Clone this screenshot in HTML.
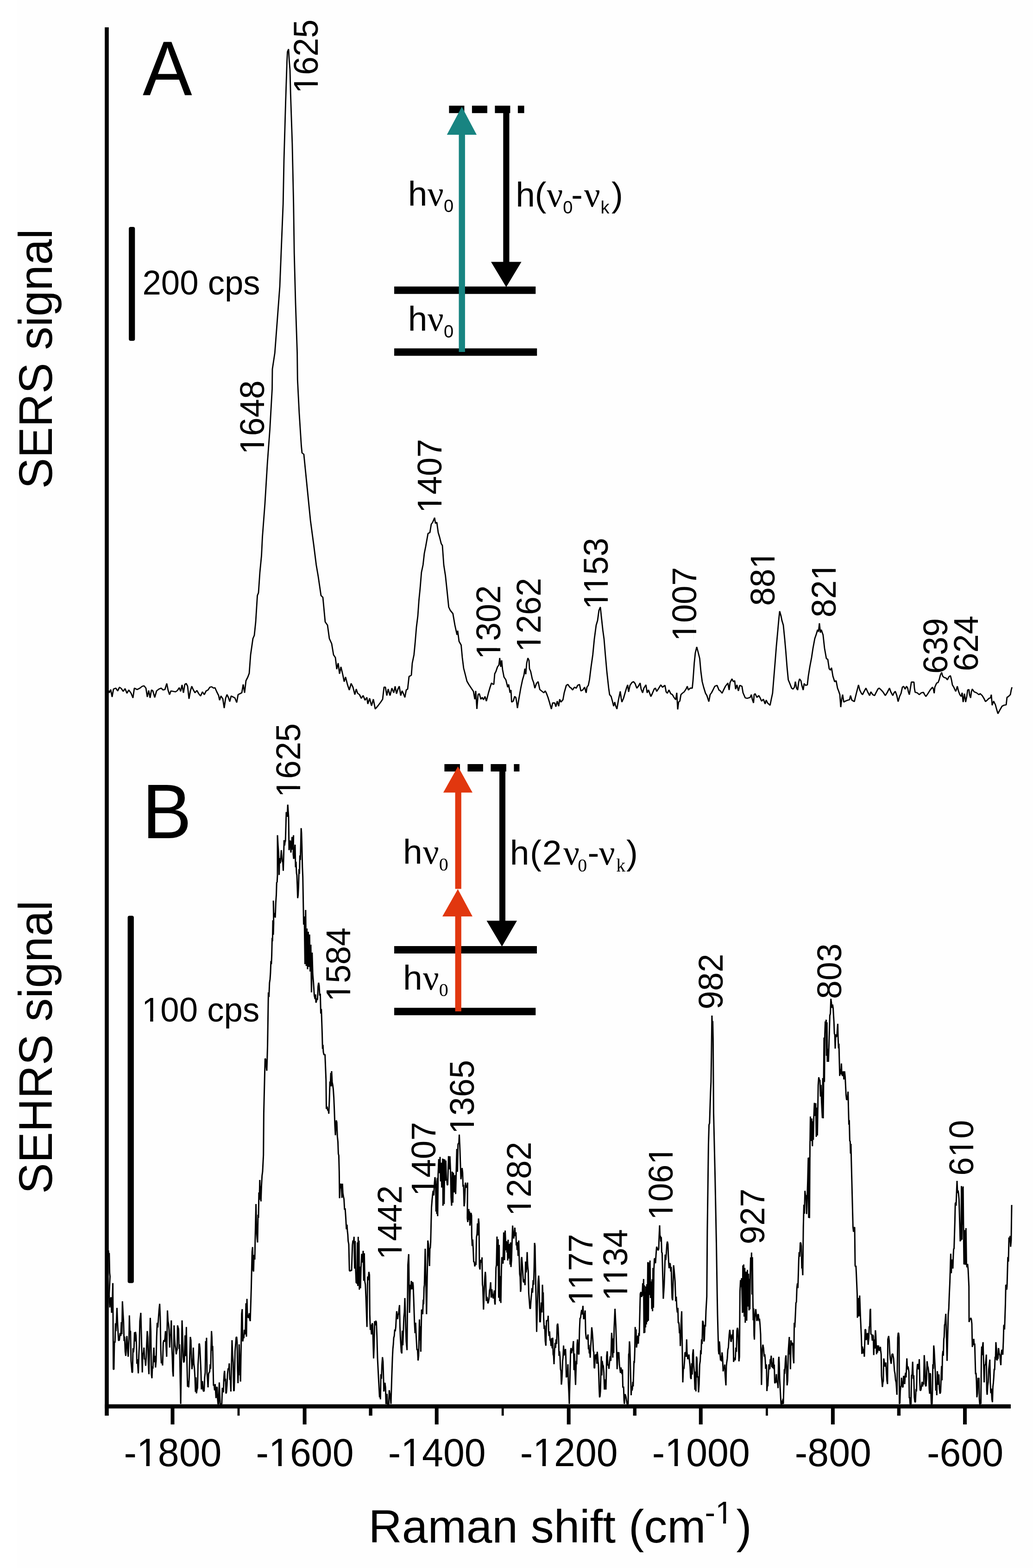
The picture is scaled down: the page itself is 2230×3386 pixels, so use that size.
<!DOCTYPE html>
<html lang="en">
<head>
<meta charset="utf-8">
<title>SERS and SEHRS spectra</title>
<style>
  html, body { margin: 0; padding: 0; background: #ffffff; }
  body { width: 2230px; height: 3386px; overflow: hidden; }
  svg { display: block; }
  text { font-family: "Liberation Sans", Arial, Helvetica, sans-serif; fill: #000; }
  .ser { font-family: "Liberation Serif", "Times New Roman", serif; }
  .spec { fill: none; stroke: #000; stroke-linejoin: bevel; stroke-linecap: butt; }
</style>
</head>
<body>
<svg width="2230" height="3386" viewBox="0 0 2230 3386">
<rect x="0" y="0" width="2230" height="3386" fill="#ffffff"/>
<rect x="37.5" y="0" width="2192.5" height="3386" fill="#fefefe"/>

<g id="axes" fill="#000">
<rect x="226.2" y="59" width="8.6" height="2998"/>
<rect x="226.2" y="3032.5" width="1955.8" height="9"/>
<rect x="368.5" y="3037" width="8" height="39"/>
<rect x="512.6" y="3037" width="4.8" height="20"/>
<rect x="653.6" y="3037" width="8" height="39"/>
<rect x="796.4" y="3037" width="7.4" height="20"/>
<rect x="938.7" y="3037" width="8" height="39"/>
<rect x="1082.8" y="3037" width="4.8" height="20"/>
<rect x="1223.7" y="3037" width="8" height="39"/>
<rect x="1366.6" y="3037" width="7.4" height="20"/>
<rect x="1508.8" y="3037" width="8" height="39"/>
<rect x="1653.0" y="3037" width="4.8" height="20"/>
<rect x="1793.9" y="3037" width="8" height="39"/>
<rect x="1936.7" y="3037" width="7.4" height="20"/>
<rect x="2079.0" y="3037" width="8" height="39"/>
</g>
<g id="ticklabels">
<g transform="translate(373.0,3166) scale(1,1.025)"><text x="-105.50" font-size="82.5">-1800</text><rect x="-73.08" y="-7.01" width="15.72" height="8.25" fill="#fefefe"/><rect x="-50.02" y="-7.01" width="15.26" height="8.25" fill="#fefefe"/></g>
<g transform="translate(658.1,3166) scale(1,1.025)"><text x="-105.50" font-size="82.5">-1600</text><rect x="-73.08" y="-7.01" width="15.72" height="8.25" fill="#fefefe"/><rect x="-50.02" y="-7.01" width="15.26" height="8.25" fill="#fefefe"/></g>
<g transform="translate(943.2,3166) scale(1,1.025)"><text x="-105.50" font-size="82.5">-1400</text><rect x="-73.08" y="-7.01" width="15.72" height="8.25" fill="#fefefe"/><rect x="-50.02" y="-7.01" width="15.26" height="8.25" fill="#fefefe"/></g>
<g transform="translate(1228.2,3166) scale(1,1.025)"><text x="-105.50" font-size="82.5">-1200</text><rect x="-73.08" y="-7.01" width="15.72" height="8.25" fill="#fefefe"/><rect x="-50.02" y="-7.01" width="15.26" height="8.25" fill="#fefefe"/></g>
<g transform="translate(1513.3,3166) scale(1,1.025)"><text x="-105.50" font-size="82.5">-1000</text><rect x="-73.08" y="-7.01" width="15.72" height="8.25" fill="#fefefe"/><rect x="-50.02" y="-7.01" width="15.26" height="8.25" fill="#fefefe"/></g>
<g transform="translate(1798.4,3166) scale(1,1.025)"><text x="-82.56" font-size="82.5">-800</text></g>
<g transform="translate(2083.5,3166) scale(1,1.025)"><text x="-82.56" font-size="82.5">-600</text></g>
</g>
<g transform="translate(0,3330.5)"><text font-size="100" x="795.6">Raman shift (cm<tspan font-size="68" x="1521.5" y="-41">-1</tspan><tspan x="1589.6" y="0">)</tspan></text><g transform="translate(1521.5,-41)"><rect x="26.72" y="-5.78" width="12.95" height="6.80" fill="#fefefe"/><rect x="45.73" y="-5.78" width="12.58" height="6.80" fill="#fefefe"/></g></g>
<text transform="translate(111.6,1055.6) rotate(-90) scale(1,1.02)" font-size="100">SERS signal</text>
<text transform="translate(111.6,2578) rotate(-90) scale(1,1.02)" font-size="100">SEHRS signal</text>
<text transform="translate(308,206) scale(1,1.04)" font-size="160" fill="#141414">A</text>
<text transform="translate(307,1810) scale(1,1.04)" font-size="160" fill="#141414">B</text>
<rect x="278.1" y="490" width="13.2" height="246" rx="4" ry="4" fill="#000"/>
<rect x="275.6" y="1977.5" width="13.3" height="793.3" rx="4" ry="4" fill="#000"/>
<text transform="translate(307.4,636) scale(1,1.025)" font-size="72.6">200 cps</text>
<g transform="translate(306,2205.5) scale(1,1.025)"><text font-size="72.6">100 cps</text><rect x="4.36" y="-6.17" width="13.83" height="7.26" fill="#fefefe"/><rect x="24.65" y="-6.17" width="13.43" height="7.26" fill="#fefefe"/></g>
<g id="peaklabelsA">
<g transform="translate(686.0,202.1) rotate(-90) scale(1,1.025)"><text font-size="72">1625</text><rect x="4.32" y="-6.12" width="13.72" height="7.20" fill="#fefefe"/><rect x="24.44" y="-6.12" width="13.32" height="7.20" fill="#fefefe"/></g>
<g transform="translate(570.0,981.6) rotate(-90) scale(1,1.025)"><text font-size="72">1648</text><rect x="4.32" y="-6.12" width="13.72" height="7.20" fill="#fefefe"/><rect x="24.44" y="-6.12" width="13.32" height="7.20" fill="#fefefe"/></g>
<g transform="translate(952.5,1108.1) rotate(-90) scale(1,1.025)"><text font-size="72">1407</text><rect x="4.32" y="-6.12" width="13.72" height="7.20" fill="#fefefe"/><rect x="24.44" y="-6.12" width="13.32" height="7.20" fill="#fefefe"/></g>
<g transform="translate(1079.5,1424.1) rotate(-90) scale(1,1.025)"><text font-size="72">1302</text><rect x="4.32" y="-6.12" width="13.72" height="7.20" fill="#fefefe"/><rect x="24.44" y="-6.12" width="13.32" height="7.20" fill="#fefefe"/></g>
<g transform="translate(1167.0,1408.1) rotate(-90) scale(1,1.025)"><text font-size="72">1262</text><rect x="4.32" y="-6.12" width="13.72" height="7.20" fill="#fefefe"/><rect x="24.44" y="-6.12" width="13.32" height="7.20" fill="#fefefe"/></g>
<g transform="translate(1312.0,1316.1) rotate(-90) scale(1,1.025)"><text font-size="72">1153</text><rect x="4.32" y="-6.12" width="13.72" height="7.20" fill="#fefefe"/><rect x="24.44" y="-6.12" width="13.32" height="7.20" fill="#fefefe"/><rect x="39.02" y="-6.12" width="13.72" height="7.20" fill="#fefefe"/><rect x="59.14" y="-6.12" width="13.32" height="7.20" fill="#fefefe"/></g>
<g transform="translate(1503.4,1384.8) rotate(-90) scale(1,1.025)"><text font-size="72">1007</text><rect x="4.32" y="-6.12" width="13.72" height="7.20" fill="#fefefe"/><rect x="24.44" y="-6.12" width="13.32" height="7.20" fill="#fefefe"/></g>
<g transform="translate(1672.0,1308.3) rotate(-90) scale(1,1.025)"><text font-size="72">881</text><rect x="84.41" y="-6.12" width="13.72" height="7.20" fill="#fefefe"/><rect x="104.53" y="-6.12" width="13.32" height="7.20" fill="#fefefe"/></g>
<g transform="translate(1803.6,1333.3) rotate(-90) scale(1,1.025)"><text font-size="72">821</text><rect x="84.41" y="-6.12" width="13.72" height="7.20" fill="#fefefe"/><rect x="104.53" y="-6.12" width="13.32" height="7.20" fill="#fefefe"/></g>
<g transform="translate(2045.3,1454.9) rotate(-90) scale(1,1.025)"><text font-size="72">639</text></g>
<g transform="translate(2111.4,1449.5) rotate(-90) scale(1,1.025)"><text font-size="72">624</text></g>
</g>
<g id="peaklabelsB">
<g transform="translate(647.5,1722.1) rotate(-90) scale(1,1.025)"><text font-size="72">1625</text><rect x="4.32" y="-6.12" width="13.72" height="7.20" fill="#fefefe"/><rect x="24.44" y="-6.12" width="13.32" height="7.20" fill="#fefefe"/></g>
<g transform="translate(756.3,2163.1) rotate(-90) scale(1,1.025)"><text font-size="72">1584</text><rect x="4.32" y="-6.12" width="13.72" height="7.20" fill="#fefefe"/><rect x="24.44" y="-6.12" width="13.32" height="7.20" fill="#fefefe"/></g>
<g transform="translate(867.0,2720.1) rotate(-90) scale(1,1.025)"><text font-size="72">1442</text><rect x="4.32" y="-6.12" width="13.72" height="7.20" fill="#fefefe"/><rect x="24.44" y="-6.12" width="13.32" height="7.20" fill="#fefefe"/></g>
<g transform="translate(940.4,2583.1) rotate(-90) scale(1,1.025)"><text font-size="72">1407</text><rect x="4.32" y="-6.12" width="13.72" height="7.20" fill="#fefefe"/><rect x="24.44" y="-6.12" width="13.32" height="7.20" fill="#fefefe"/></g>
<g transform="translate(1022.6,2449.1) rotate(-90) scale(1,1.025)"><text font-size="72">1365</text><rect x="4.32" y="-6.12" width="13.72" height="7.20" fill="#fefefe"/><rect x="24.44" y="-6.12" width="13.32" height="7.20" fill="#fefefe"/></g>
<g transform="translate(1146.0,2625.9) rotate(-90) scale(1,1.025)"><text font-size="72">1282</text><rect x="4.32" y="-6.12" width="13.72" height="7.20" fill="#fefefe"/><rect x="24.44" y="-6.12" width="13.32" height="7.20" fill="#fefefe"/></g>
<g transform="translate(1279.0,2819.6) rotate(-90) scale(1,1.025)"><text font-size="72">1177</text><rect x="4.32" y="-6.12" width="13.72" height="7.20" fill="#fefefe"/><rect x="24.44" y="-6.12" width="13.32" height="7.20" fill="#fefefe"/><rect x="39.02" y="-6.12" width="13.72" height="7.20" fill="#fefefe"/><rect x="59.14" y="-6.12" width="13.32" height="7.20" fill="#fefefe"/></g>
<g transform="translate(1353.5,2809.1) rotate(-90) scale(1,1.025)"><text font-size="72">1134</text><rect x="4.32" y="-6.12" width="13.72" height="7.20" fill="#fefefe"/><rect x="24.44" y="-6.12" width="13.32" height="7.20" fill="#fefefe"/><rect x="39.02" y="-6.12" width="13.72" height="7.20" fill="#fefefe"/><rect x="59.14" y="-6.12" width="13.32" height="7.20" fill="#fefefe"/></g>
<g transform="translate(1451.8,2634.8) rotate(-90) scale(1,1.025)"><text font-size="72">1061</text><rect x="4.32" y="-6.12" width="13.72" height="7.20" fill="#fefefe"/><rect x="24.44" y="-6.12" width="13.32" height="7.20" fill="#fefefe"/><rect x="124.45" y="-6.12" width="13.72" height="7.20" fill="#fefefe"/><rect x="144.57" y="-6.12" width="13.32" height="7.20" fill="#fefefe"/></g>
<g transform="translate(1560.0,2179.7) rotate(-90) scale(1,1.025)"><text font-size="72">982</text></g>
<g transform="translate(1650.2,2686.9) rotate(-90) scale(1,1.025)"><text font-size="72">927</text></g>
<g transform="translate(1816.4,2157.2) rotate(-90) scale(1,1.025)"><text font-size="72">803</text></g>
<g transform="translate(2100.6,2538.7) rotate(-90) scale(1,1.025)"><text font-size="72">610</text><rect x="44.36" y="-6.12" width="13.72" height="7.20" fill="#fefefe"/><rect x="64.49" y="-6.12" width="13.32" height="7.20" fill="#fefefe"/></g>
</g>
<g id="diagA">
<line x1="969.4" y1="236.3" x2="1131.6" y2="236.3" stroke="#000" stroke-width="16" stroke-dasharray="33 16.5"/>
<rect x="851" y="618.7" width="305.3" height="16" fill="#000"/>
<rect x="851" y="752.3" width="308.2" height="16" fill="#000"/>
<rect x="1086.3" y="236" width="13.2" height="332" fill="#000"/>
<polygon points="1060,565.5 1125.6,565.5 1092.8,620" fill="#000"/>
<rect x="990.5" y="288" width="13.4" height="472" fill="#188481"/>
<polygon points="964.7,291 1029,291 997,230.5" fill="#188481"/>
</g>
<g id="diagB">
<line x1="959.4" y1="1658" x2="1121.4" y2="1658" stroke="#000" stroke-width="16" stroke-dasharray="33.5 16.5"/>
<rect x="851" y="2043" width="308" height="16" fill="#000"/>
<rect x="851" y="2176.3" width="305.3" height="16" fill="#000"/>
<rect x="1078" y="1658" width="13" height="333" fill="#000"/>
<polygon points="1050.5,1988.2 1116,1988.2 1083.6,2044" fill="#000"/>
<rect x="982.6" y="1709" width="13.2" height="210.5" fill="#e1370f"/>
<polygon points="956.9,1711.5 1020,1711.5 988.6,1655" fill="#e1370f"/>
<rect x="982.6" y="1976" width="13.2" height="208" fill="#e1370f"/>
<polygon points="955,1979 1020,1979 988.4,1920" fill="#e1370f"/>
</g>
<text y="443.8" font-size="75"><tspan x="880.8" y="443.8">h</tspan><tspan class="ser" font-size="77" x="923.0" y="443.8">ν</tspan><tspan font-size="38" x="957.9" y="458.3">0</tspan></text>
<text y="714.0" font-size="75"><tspan x="880.8" y="714.0">h</tspan><tspan class="ser" font-size="77" x="923.0" y="714.0">ν</tspan><tspan font-size="38" x="957.9" y="728.5">0</tspan></text>
<text y="1865.2" font-size="75"><tspan x="870.1" y="1865.2">h</tspan><tspan class="ser" font-size="77" x="913.0" y="1865.2">ν</tspan><tspan class="ser" font-size="40" x="947.8" y="1879.7">0</tspan></text>
<text y="2136.6" font-size="75"><tspan x="870.1" y="2136.6">h</tspan><tspan class="ser" font-size="77" x="913.0" y="2136.6">ν</tspan><tspan class="ser" font-size="40" x="947.8" y="2151.1">0</tspan></text>
<text y="446.3" font-size="75"><tspan x="1113.2" y="446.3">h</tspan><tspan x="1154.6" y="446.3">(</tspan><tspan class="ser" font-size="77" x="1180.5" y="446.3">ν</tspan><tspan font-size="38" x="1215.2" y="460.8">0</tspan><tspan x="1233.0" y="446.3">-</tspan><tspan class="ser" font-size="77" x="1261.0" y="446.3">ν</tspan><tspan font-size="38" x="1296.6" y="460.8">k</tspan><tspan x="1320.0" y="446.3">)</tspan></text>
<text y="1867.3" font-size="75"><tspan x="1100.8" y="1867.3">h</tspan><tspan x="1143.9" y="1867.3">(</tspan><tspan x="1170.8" y="1867.3">2</tspan><tspan class="ser" font-size="77" x="1216.2" y="1867.3">ν</tspan><tspan class="ser" font-size="40" x="1247.3" y="1881.8">0</tspan><tspan x="1268.6" y="1867.3">-</tspan><tspan class="ser" font-size="77" x="1293.0" y="1867.3">ν</tspan><tspan class="ser" font-size="40" x="1330.2" y="1881.8">k</tspan><tspan x="1352.1" y="1867.3">)</tspan></text>
<g id="spectra">
<polyline class="spec" stroke-width="2.8" points="234.0,1491.0 236.0,1496.0 239.0,1489.0 242.0,1505.0 245.0,1488.0 250.0,1486.0 254.0,1492.0 258.0,1484.0 262.0,1487.0 266.0,1493.0 270.0,1487.0 274.0,1497.0 278.0,1490.0 283.0,1497.0 287.0,1507.0 290.0,1486.0 296.0,1489.0 302.0,1486.0 307.0,1482.0 311.0,1481.0 315.0,1486.0 318.0,1505.0 321.0,1491.0 324.0,1507.0 327.0,1490.0 330.0,1492.0 334.0,1506.0 338.0,1492.0 343.0,1488.0 348.0,1486.0 352.0,1490.0 356.0,1489.0 360.0,1476.0 363.0,1491.0 366.0,1500.0 369.0,1492.0 374.0,1493.0 379.0,1494.0 383.0,1491.0 387.0,1485.0 390.0,1493.0 393.0,1479.0 396.0,1496.0 399.0,1478.0 402.0,1476.0 405.0,1482.0 408.0,1509.0 411.0,1492.0 414.0,1482.0 417.0,1489.0 421.0,1496.0 425.0,1491.0 429.0,1498.0 433.0,1503.0 437.0,1494.0 441.0,1500.0 445.0,1492.0 449.0,1490.0 453.0,1484.0 457.0,1483.0 461.0,1486.0 464.0,1485.0 468.0,1494.0 472.0,1502.0 474.0,1512.0 477.0,1503.0 481.0,1509.0 484.0,1529.0 487.0,1508.0 490.0,1500.0 493.0,1506.0 496.0,1515.0 499.0,1503.0 503.0,1505.0 507.0,1507.0 511.0,1517.0 514.0,1500.0 518.0,1498.0 522.0,1496.0 525.0,1478.0 528.0,1496.0 531.0,1470.0 535.0,1462.0 538.0,1454.0 541.0,1414.0 546.0,1379.0 549.0,1372.0 552.0,1343.0 555.6,1286.0 558.0,1280.0 561.0,1236.0 564.5,1200.0 566.5,1159.5 571.9,1088.0 577.3,999.0 582.6,927.0 587.5,840.0 588.0,797.0 593.3,762.0 598.7,690.0 604.0,619.0 607.6,529.0 611.2,440.0 613.0,346.0 616.6,221.0 619.4,135.0 620.5,112.0 623.0,106.0 624.4,131.5 626.0,150.0 627.3,203.0 630.9,310.0 633.7,440.0 635.2,547.0 638.0,654.0 641.6,762.0 642.3,820.0 645.9,891.5 650.5,963.0 652.0,978.0 655.9,981.0 661.2,1034.0 670.2,1124.0 677.3,1177.0 682.7,1220.0 687.0,1245.0 693.0,1286.0 697.0,1290.0 702.0,1343.0 707.0,1350.0 711.0,1379.0 716.0,1390.0 720.0,1414.0 724.0,1420.0 727.0,1445.0 730.0,1432.0 733.0,1455.0 736.0,1440.0 740.0,1457.0 743.0,1472.0 746.0,1462.0 750.0,1478.0 754.0,1490.0 758.0,1476.0 762.0,1484.0 766.0,1500.0 769.0,1488.0 772.0,1497.0 776.0,1500.0 780.0,1508.0 784.0,1502.0 788.0,1512.0 792.0,1506.0 794.0,1520.0 798.0,1508.0 802.0,1524.0 806.0,1510.0 810.0,1531.0 816.0,1524.0 822.0,1516.0 826.0,1510.0 829.0,1484.0 832.0,1484.0 835.0,1502.0 838.0,1488.0 842.0,1502.0 846.0,1486.0 850.0,1496.0 853.0,1482.0 856.0,1498.0 859.0,1488.0 862.0,1482.0 865.0,1502.0 868.0,1492.0 871.0,1498.0 874.0,1506.0 877.0,1490.0 880.0,1488.0 883.0,1461.0 888.0,1458.0 890.0,1432.0 893.7,1414.0 896.0,1390.0 899.0,1354.0 902.0,1330.0 904.4,1296.0 907.0,1270.0 909.8,1236.0 913.2,1220.0 916.0,1195.0 919.0,1180.0 924.0,1152.0 928.0,1150.0 931.0,1132.0 934.0,1128.0 938.2,1118.0 940.0,1130.0 943.0,1128.0 946.0,1150.0 949.0,1160.0 952.5,1174.0 955.0,1178.0 958.0,1220.0 961.6,1243.0 965.0,1275.0 968.7,1311.0 972.0,1318.0 977.7,1325.0 982.0,1350.0 986.6,1371.0 988.0,1362.0 991.0,1385.0 995.5,1393.0 998.0,1420.0 1000.9,1443.0 1004.0,1455.0 1008.0,1471.0 1012.0,1478.0 1016.0,1484.0 1022.0,1493.0 1025.0,1510.0 1027.0,1492.0 1029.5,1531.0 1032.0,1500.0 1034.8,1498.0 1038.0,1510.0 1041.0,1506.0 1043.8,1511.0 1047.0,1504.0 1050.0,1514.0 1054.5,1496.0 1058.0,1484.0 1061.0,1475.0 1063.4,1477.0 1066.0,1478.0 1068.0,1455.0 1070.6,1450.0 1074.0,1440.0 1077.0,1436.0 1078.8,1421.0 1081.0,1440.0 1083.0,1426.0 1084.9,1446.0 1088.0,1462.0 1092.0,1468.0 1096.0,1484.0 1098.0,1478.0 1101.0,1496.0 1103.0,1490.0 1104.5,1516.0 1108.0,1514.0 1111.0,1504.0 1113.5,1506.0 1115.0,1514.0 1117.0,1529.0 1120.0,1510.0 1124.2,1486.0 1128.0,1468.0 1131.0,1458.0 1133.1,1444.0 1135.0,1456.0 1137.0,1432.0 1139.6,1421.0 1142.0,1426.0 1143.0,1444.0 1145.6,1450.0 1149.0,1466.0 1152.0,1474.0 1154.6,1486.0 1158.0,1476.0 1161.7,1472.0 1165.3,1489.0 1169.0,1492.0 1174.0,1496.0 1177.0,1492.0 1179.6,1497.0 1183.0,1506.0 1186.0,1516.0 1190.3,1531.0 1193.0,1518.0 1197.5,1518.0 1200.0,1526.0 1203.0,1514.0 1206.0,1525.0 1208.2,1510.0 1211.0,1516.0 1215.3,1511.0 1218.0,1496.0 1222.5,1480.0 1226.0,1478.0 1230.0,1484.0 1233.2,1486.0 1236.0,1490.0 1240.0,1484.0 1244.0,1486.0 1247.0,1480.0 1251.0,1478.0 1254.0,1492.0 1258.0,1490.0 1262.0,1484.0 1265.4,1496.0 1267.0,1484.0 1270.0,1480.0 1272.5,1468.0 1276.0,1440.0 1279.7,1414.0 1283.0,1380.0 1287.0,1350.0 1290.0,1340.0 1293.0,1318.0 1296.0,1311.0 1298.0,1330.0 1301.4,1361.0 1304.0,1380.0 1306.8,1414.0 1310.0,1450.0 1314.0,1486.0 1316.0,1500.0 1319.3,1504.0 1322.0,1514.0 1324.7,1525.0 1327.0,1516.0 1329.0,1524.0 1331.8,1531.0 1335.0,1512.0 1339.0,1493.0 1341.0,1508.0 1342.5,1516.0 1346.0,1508.0 1350.0,1494.0 1353.0,1484.0 1355.0,1479.0 1357.0,1494.0 1360.0,1480.0 1364.0,1474.0 1367.6,1472.0 1371.0,1476.0 1374.7,1486.0 1378.0,1482.0 1381.9,1475.0 1384.0,1488.0 1387.2,1496.0 1390.0,1486.0 1394.4,1479.0 1397.0,1496.0 1400.0,1490.0 1405.0,1504.0 1408.0,1498.0 1412.2,1488.0 1415.0,1486.0 1417.6,1493.0 1421.0,1488.0 1426.5,1479.0 1430.0,1484.0 1435.5,1480.0 1438.0,1494.0 1440.8,1497.0 1444.0,1490.0 1448.0,1498.0 1451.5,1500.0 1455.0,1506.0 1458.7,1511.0 1461.0,1496.0 1463.0,1532.0 1465.0,1516.0 1467.6,1514.0 1470.0,1500.0 1473.0,1497.0 1477.0,1494.0 1481.0,1488.0 1483.7,1482.0 1486.0,1490.0 1490.0,1486.0 1494.4,1486.0 1496.0,1470.0 1498.7,1432.0 1501.0,1410.0 1504.1,1397.0 1507.0,1408.0 1510.5,1422.0 1513.0,1450.0 1515.9,1472.0 1519.0,1484.0 1523.0,1497.0 1526.0,1502.0 1530.2,1515.0 1533.0,1500.0 1536.0,1496.0 1539.1,1490.0 1543.0,1482.0 1548.0,1480.0 1552.0,1490.0 1555.0,1492.0 1558.8,1497.0 1562.0,1490.0 1566.0,1482.0 1571.3,1475.0 1574.0,1490.0 1576.0,1474.0 1580.2,1466.0 1583.0,1472.0 1586.0,1470.0 1588.0,1488.0 1590.9,1479.0 1594.0,1492.0 1597.0,1480.0 1601.7,1482.0 1604.0,1496.0 1608.8,1507.0 1613.0,1508.0 1619.5,1506.0 1622.0,1500.0 1624.0,1510.0 1626.7,1518.0 1628.0,1500.0 1630.2,1498.0 1634.0,1506.0 1638.0,1502.0 1641.0,1507.0 1644.0,1514.0 1648.0,1510.0 1651.7,1520.0 1654.0,1512.0 1657.0,1518.0 1662.4,1523.0 1665.0,1510.0 1667.8,1497.0 1670.0,1470.0 1673.1,1432.0 1676.0,1395.0 1678.5,1368.0 1681.0,1340.0 1683.1,1320.0 1686.0,1330.0 1688.0,1340.0 1691.0,1350.0 1694.0,1380.0 1696.4,1407.0 1699.0,1440.0 1701.7,1468.0 1705.0,1476.0 1708.9,1486.0 1712.0,1488.0 1715.0,1484.0 1717.0,1472.0 1719.6,1486.0 1722.0,1490.0 1724.0,1474.0 1726.0,1466.0 1729.0,1470.0 1731.0,1480.0 1733.9,1490.0 1736.0,1476.0 1739.0,1480.0 1742.8,1479.0 1745.0,1460.0 1748.2,1440.0 1752.0,1420.0 1755.0,1400.0 1758.9,1379.0 1762.0,1370.0 1765.0,1360.0 1767.0,1364.0 1768.9,1346.0 1771.0,1366.0 1773.0,1360.0 1776.8,1371.0 1780.0,1400.0 1783.9,1422.0 1787.0,1424.0 1790.0,1444.0 1792.9,1447.0 1795.0,1442.0 1798.0,1460.0 1801.8,1472.0 1805.0,1470.0 1808.0,1486.0 1810.7,1493.0 1813.0,1500.0 1815.0,1527.0 1817.0,1510.0 1819.0,1500.0 1821.5,1516.0 1825.0,1514.0 1830.0,1512.0 1834.0,1511.0 1836.0,1502.0 1839.0,1512.0 1844.4,1515.0 1846.0,1508.0 1848.7,1497.0 1851.0,1488.0 1853.3,1479.0 1856.0,1490.0 1859.4,1497.0 1862.0,1500.0 1865.0,1494.0 1869.4,1486.0 1873.0,1494.0 1877.3,1502.0 1880.0,1494.0 1884.0,1500.0 1888.0,1502.0 1891.0,1496.0 1895.2,1488.0 1898.0,1486.0 1902.3,1490.0 1906.0,1494.0 1911.2,1502.0 1915.0,1496.0 1920.2,1486.0 1923.0,1494.0 1927.3,1502.0 1930.0,1496.0 1932.7,1493.0 1936.0,1502.0 1938.8,1515.0 1942.0,1504.0 1945.2,1497.0 1948.0,1484.0 1950.6,1482.0 1954.0,1488.0 1957.0,1482.0 1959.5,1486.0 1961.0,1494.0 1963.1,1500.0 1965.0,1488.0 1967.4,1473.0 1973.0,1473.0 1974.0,1486.0 1975.6,1495.0 1980.0,1496.0 1984.5,1500.0 1989.0,1496.0 1993.4,1495.0 1996.0,1500.0 1998.8,1504.0 2003.0,1498.0 2008.0,1490.0 2013.1,1484.0 2015.0,1488.0 2016.7,1497.0 2018.0,1484.0 2022.0,1475.0 2025.0,1474.0 2027.4,1468.0 2030.0,1458.0 2032.8,1452.0 2035.0,1460.0 2038.1,1463.0 2042.0,1464.0 2045.3,1468.0 2048.0,1462.0 2051.7,1459.0 2054.0,1468.0 2056.0,1479.0 2059.0,1484.0 2063.1,1493.0 2065.0,1488.0 2066.7,1482.0 2069.0,1492.0 2072.0,1500.0 2075.0,1504.0 2077.0,1496.0 2079.2,1516.0 2082.0,1498.0 2084.6,1516.0 2087.0,1504.0 2089.0,1490.0 2091.7,1489.0 2093.0,1500.0 2095.3,1507.0 2097.0,1494.0 2098.9,1488.0 2103.0,1494.0 2108.0,1496.0 2113.2,1500.0 2116.0,1498.0 2120.3,1502.0 2124.0,1508.0 2127.5,1515.0 2131.0,1512.0 2135.0,1508.0 2138.2,1507.0 2140.0,1500.0 2141.8,1523.0 2145.0,1514.0 2148.9,1522.0 2151.0,1530.0 2154.3,1541.0 2158.0,1534.0 2163.2,1525.0 2167.0,1523.0 2172.1,1522.0 2173.9,1506.0 2177.0,1504.0 2181.1,1500.0 2183.0,1490.0 2184.6,1484.0"/>
<polyline class="spec" stroke-width="3.0" points="234.0,2700.0 235.0,2713.6 235.8,2705.9 236.7,2749.0 237.5,2756.5 235.7,2795.8 237.0,2823.5 238.3,2806.2 239.7,2801.3 241.0,2835.0 241.9,2812.4 242.7,2800.8 243.6,2770.8 244.7,2956.6 245.9,2957.3 247.0,2896.6 248.2,2899.5 249.3,2857.5 250.3,2874.7 251.4,2851.7 252.5,2824.4 254.3,2867.3 255.9,2895.0 257.6,2893.8 259.2,2878.7 260.8,2885.0 262.0,2855.1 263.1,2881.3 264.3,2810.0 265.5,2833.5 266.7,2853.2 267.9,2896.0 269.1,2886.2 270.3,2919.1 271.5,2928.0 272.3,2916.3 273.2,2893.1 274.0,2885.0 274.9,2898.8 275.9,2919.8 276.8,2929.8 277.6,2912.5 278.5,2890.0 279.3,2840.5 280.5,2877.0 281.7,2873.8 282.9,2938.8 285.0,2963.8 286.1,2963.0 287.1,2911.3 288.2,2920.4 289.3,2910.0 290.4,2876.8 291.5,2896.7 292.5,2876.0 293.6,2883.4 294.6,2904.4 295.5,2945.0 296.5,2935.0 298.6,2965.6 299.7,2927.2 300.8,2905.7 301.9,2853.0 304.0,2835.0 307.2,2963.8 308.4,2922.0 309.6,2922.7 310.8,2910.0 312.0,2935.1 313.2,2934.7 314.4,2949.5 315.6,2931.1 316.7,2901.3 317.9,2874.4 319.1,2887.3 320.3,2946.5 321.5,2967.4 324.4,2845.8 325.6,2874.7 326.8,2966.5 328.0,2976.3 329.1,2950.6 330.1,2955.5 331.1,2926.6 332.2,2910.0 333.4,2941.5 334.6,2927.8 335.8,2953.0 337.0,2938.8 338.2,2886.5 339.4,2856.6 340.7,2866.6 342.0,2847.3 343.4,2828.3 344.7,2815.5 345.9,2844.3 347.1,2915.0 348.3,2944.0 349.6,2939.9 351.0,2948.6 352.4,2899.7 353.7,2894.0 354.9,2897.5 356.1,2890.1 357.3,2874.4 358.1,2898.0 359.0,2915.1 359.8,2929.8 361.5,2829.8 362.7,2853.1 363.9,2859.1 365.0,2871.7 366.2,2910.0 367.4,2883.3 368.6,2881.4 369.8,2851.2 370.9,2908.8 371.9,2929.5 372.9,2961.3 374.0,2972.7 375.8,2862.0 377.0,2891.6 378.1,2905.8 379.3,2912.2 380.5,2924.5 381.4,2917.6 382.4,2914.8 383.3,2862.0 384.4,2866.4 385.5,2870.0 386.5,2913.0 387.6,2903.0 390.1,3031.7 393.0,2851.2 394.2,2886.0 395.4,2929.4 396.6,2942.3 398.0,2938.8 399.5,2883.5 400.9,2928.5 402.3,2865.5 403.7,2946.0 404.9,2994.6 406.1,2982.5 407.3,2996.0 408.5,2973.2 409.7,2925.6 410.9,2887.0 412.1,2894.3 413.2,2931.4 414.4,2956.6 415.4,2947.8 416.3,2945.6 417.3,2910.0 418.5,2944.3 419.7,2954.1 420.9,2974.5 422.0,3005.6 423.0,2974.2 424.1,3008.9 425.2,3001.3 426.4,2996.9 427.5,2947.2 428.7,2928.0 429.7,2902.0 430.6,2902.0 431.6,2912.0 432.7,2936.4 433.8,2961.7 434.8,3000.2 435.9,2992.4 437.1,2982.4 438.3,3000.8 439.5,3004.9 440.7,3002.9 441.8,2974.7 443.0,2963.8 444.0,2896.1 444.9,2928.2 445.9,2888.7 447.0,2966.1 448.0,2978.3 449.1,2996.0 450.3,2967.0 451.5,2963.6 452.6,2962.5 453.8,2946.0 454.7,2956.0 455.7,2909.4 456.6,2874.4 457.4,2887.2 458.3,2916.6 459.1,2906.6 460.9,2992.4 462.1,2989.7 463.3,3002.4 464.5,2988.8 466.3,3019.2 467.1,2999.1 468.0,2995.2 468.8,2996.0 469.7,3020.9 470.7,3032.0 471.6,3031.7 473.4,2985.2 475.2,3031.7 476.4,3032.0 477.6,3032.0 478.8,3031.7 480.0,2996.7 481.1,3002.2 482.3,3006.7 483.1,2980.2 484.0,2966.1 484.8,2960.2 485.8,2982.4 486.8,2977.4 487.8,3009.3 488.8,3006.7 490.0,2991.5 491.1,2967.3 492.3,2956.6 493.2,2954.5 494.0,2955.9 494.9,2944.0 496.1,2979.7 497.2,2976.0 498.4,3004.9 500.9,2894.0 502.1,2926.1 503.3,2942.1 504.5,3003.0 505.5,3003.3 506.4,2972.0 507.4,2917.3 508.6,2904.0 509.7,2888.5 510.9,2887.0 511.9,2898.1 512.8,2956.7 513.8,2987.0 514.6,2962.7 515.5,2970.3 516.3,2903.0 517.3,2934.2 518.2,2942.6 519.2,2983.4 521.7,2837.0 522.9,2827.0 524.0,2896.8 525.2,2888.7 526.4,2889.7 527.6,2871.6 528.8,2881.6 529.9,2865.6 531.0,2814.2 532.0,2886.6 533.1,2804.7 534.1,2838.5 535.0,2842.4 536.0,2845.8 537.0,2844.4 538.1,2835.8 539.2,2848.9 540.2,2853.0 542.4,2781.5 544.2,2703.0 545.3,2693.0 546.3,2742.3 547.4,2745.8 548.3,2710.0 549.1,2712.3 550.0,2720.0 550.8,2680.0 552.6,2600.0 553.8,2658.5 555.0,2673.0 556.0,2683.0 557.0,2623.1 558.0,2630.0 558.9,2575.1 559.9,2591.2 560.8,2548.0 561.6,2578.9 562.5,2561.2 563.3,2594.5 564.5,2560.5 565.7,2539.0 566.9,2530.0 568.7,2494.4 569.4,2405.0 571.5,2315.7 572.3,2286.0 573.2,2286.8 574.0,2290.7 575.1,2306.0 575.9,2312.3 576.8,2285.9 577.6,2257.3 579.4,2143.0 580.6,2153.0 581.8,2122.4 583.0,2114.4 583.9,2101.2 584.9,2075.2 585.8,2082.2 586.6,2063.4 587.5,2025.4 588.3,2032.4 589.1,1987.3 590.0,2018.7 590.8,1993.0 590.1,1944.8 591.1,1979.7 592.0,1977.7 593.0,1971.6 594.2,1981.6 595.3,1949.9 596.5,1932.3 597.3,1905.1 598.2,1905.3 599.0,1889.4 599.0,1803.6 600.2,1825.5 601.4,1840.8 602.6,1889.4 603.4,1854.4 604.3,1854.4 605.1,1864.4 607.3,1835.8 608.3,1846.9 609.4,1860.9 610.5,1860.8 611.5,1880.5 613.3,1814.4 614.3,1826.0 615.2,1818.7 616.2,1816.0 618.0,1753.6 619.1,1758.7 620.1,1763.6 621.2,1737.5 623.0,1764.3 624.0,1835.8 625.4,1818.3 626.7,1815.0 628.0,1841.2 629.4,1825.0 630.5,1807.3 631.5,1835.0 632.6,1815.0 633.7,1803.6 633.0,1844.7 634.0,1854.7 634.9,1851.3 635.9,1834.0 637.0,1824.0 638.0,1872.8 639.0,1860.7 640.1,1885.8 640.9,1890.1 641.8,1913.8 642.6,1939.5 643.6,1932.5 644.5,1913.7 645.5,1876.9 646.5,1886.9 647.4,1847.3 648.4,1857.3 649.2,1827.0 650.1,1788.3 650.9,1798.3 651.8,1828.0 652.8,1872.2 653.7,1893.0 655.5,1996.6 657.0,1979.0 658.4,2082.0 659.8,1965.0 661.2,2086.0 662.6,2005.0 664.0,2093.0 665.4,2012.0 666.8,2088.0 668.2,2018.0 669.6,2098.0 671.0,2040.0 672.4,2143.0 673.8,2057.0 675.2,2104.0 676.6,2120.0 678.5,2150.0 680.2,2157.3 681.1,2147.3 682.1,2165.2 683.0,2162.6 684.2,2156.0 685.4,2159.3 686.6,2130.4 687.8,2122.1 689.0,2128.5 690.2,2150.0 691.4,2145.8 692.5,2188.7 693.7,2178.7 695.5,2232.3 696.3,2265.0 697.2,2256.3 698.0,2271.6 699.2,2277.5 700.4,2277.3 701.6,2277.0 703.8,2332.4 704.5,2394.4 706.3,2389.6 707.5,2398.4 708.6,2396.1 709.8,2405.0 711.0,2376.0 712.2,2336.4 713.4,2336.0 714.2,2316.8 715.1,2346.0 715.9,2313.0 717.1,2336.7 718.2,2342.3 719.4,2351.4 720.6,2369.3 721.8,2397.8 722.9,2430.5 724.1,2451.5 725.9,2419.4 727.1,2423.2 728.3,2453.9 729.5,2465.8 730.4,2491.5 731.4,2495.1 732.3,2530.0 733.0,2587.4 734.0,2566.1 735.0,2556.0 736.0,2566.0 737.0,2556.0 738.1,2586.6 739.2,2556.0 740.2,2576.6 741.4,2583.7 742.6,2589.5 743.8,2612.4 745.1,2609.3 746.5,2630.2 747.8,2654.5 749.1,2644.5 749.9,2657.7 750.8,2665.6 751.6,2680.0 752.9,2686.8 754.3,2744.0 755.9,2744.6 757.4,2743.1 759.0,2744.0 760.8,2688.6 762.0,2678.6 763.1,2684.2 764.3,2670.7 765.5,2739.5 766.7,2679.8 767.9,2745.8 768.9,2770.7 769.8,2755.6 770.8,2772.6 771.6,2682.8 772.5,2776.9 773.3,2670.7 774.1,2772.3 775.0,2679.1 775.8,2785.0 777.0,2735.2 778.1,2781.9 779.3,2738.6 780.9,2707.5 782.4,2726.4 784.0,2701.0 785.2,2765.7 786.4,2706.4 787.6,2767.2 788.8,2774.1 790.0,2803.0 792.2,2865.5 793.6,2756.5 794.9,2764.6 796.3,2746.6 797.6,2753.0 798.3,2838.7 799.5,2871.9 800.7,2860.4 801.9,2881.6 802.7,2867.3 803.6,2857.3 804.4,2860.0 806.5,2933.4 807.7,2903.8 808.8,2853.1 810.0,2862.0 811.2,2852.0 812.5,2855.1 813.7,2885.0 815.0,2933.4 817.2,2976.3 819.4,3017.4 820.3,3009.6 821.3,3021.7 822.2,2967.4 823.4,2977.4 824.5,2947.9 825.7,2930.6 826.9,2940.6 828.7,3004.9 829.9,2994.6 831.0,2986.0 832.2,2996.0 833.3,3032.0 834.4,3024.1 835.4,3009.7 836.5,3031.7 837.5,3032.0 838.4,3032.0 839.4,3031.7 840.3,3002.0 841.3,3009.0 842.2,3012.0 844.0,3031.7 845.8,2971.0 847.2,2931.6 848.1,2913.0 849.1,2903.3 850.0,2888.7 851.1,2885.3 852.2,2871.0 853.3,2874.7 854.4,2865.5 855.4,2846.0 856.3,2831.5 857.3,2838.7 858.3,2848.7 859.4,2838.9 860.5,2837.2 861.5,2826.2 862.5,2818.3 863.4,2864.9 864.4,2888.7 866.2,2919.0 867.4,2922.6 868.5,2873.5 869.6,2905.3 870.8,2874.4 871.9,2843.6 872.9,2834.0 874.0,2803.0 875.0,2831.6 875.9,2868.9 876.9,2896.0 878.7,2915.5 880.5,2731.5 882.3,2708.2 884.0,2835.0 885.8,2774.4 886.9,2784.4 888.0,2766.2 889.0,2784.4 890.1,2772.6 891.1,2768.7 892.0,2776.1 893.0,2803.0 894.8,2856.6 896.0,2878.9 897.2,2856.3 898.4,2885.0 900.1,2915.5 901.3,2913.0 902.5,2938.0 903.7,2928.0 905.5,2849.4 906.5,2894.4 907.4,2863.9 908.4,2919.0 910.1,2828.0 911.3,2829.9 912.5,2838.0 913.7,2806.5 914.5,2816.5 915.4,2780.8 916.2,2774.4 917.9,2696.6 920.8,2838.0 923.6,2678.8 924.8,2686.4 926.0,2710.3 927.2,2734.0 928.0,2696.0 928.9,2694.8 929.7,2682.3 931.5,2607.3 932.7,2592.0 933.8,2580.8 935.0,2571.5 936.4,2581.5 937.7,2557.6 939.0,2542.0 940.4,2552.0 941.2,2616.3 942.1,2555.8 942.9,2621.6 943.9,2543.6 944.8,2626.3 945.8,2535.8 947.2,2503.1 948.6,2533.5 950.0,2498.3 951.2,2551.3 952.4,2510.8 953.6,2564.4 955.8,2501.9 956.3,2603.7 957.5,2503.0 958.8,2600.2 960.0,2503.6 961.2,2550.0 962.4,2506.3 963.6,2546.5 964.6,2548.7 965.5,2558.5 966.5,2559.0 968.3,2496.5 969.7,2525.2 971.2,2496.8 972.6,2528.7 973.8,2585.1 975.0,2603.7 976.2,2530.0 977.5,2597.3 978.7,2532.2 980.8,2575.0 982.2,2537.5 983.6,2578.4 985.0,2525.0 986.2,2481.1 987.5,2530.5 988.7,2471.5 989.6,2468.8 990.6,2469.3 991.5,2450.0 993.0,2485.8 995.0,2546.5 996.2,2535.6 997.5,2522.3 998.7,2532.2 999.6,2562.6 1000.7,2558.5 1001.9,2605.0 1003.0,2596.6 1004.7,2553.7 1005.9,2563.7 1007.0,2563.7 1008.2,2563.7 1009.4,2553.7 1008.8,2630.5 1009.8,2639.0 1010.9,2617.4 1011.9,2610.9 1012.7,2634.7 1013.6,2615.8 1014.4,2646.6 1015.6,2635.7 1016.8,2619.0 1018.0,2625.0 1018.3,2668.0 1019.4,2690.6 1020.4,2676.6 1021.5,2696.6 1022.6,2725.2 1023.8,2724.5 1025.0,2734.8 1026.2,2728.8 1027.4,2731.8 1028.6,2671.7 1029.8,2664.5 1030.8,2641.8 1031.9,2667.6 1033.0,2631.2 1034.0,2641.2 1035.0,2736.0 1036.2,2741.4 1037.4,2720.3 1038.6,2726.0 1039.8,2725.2 1040.6,2715.2 1041.5,2773.8 1042.3,2778.8 1043.8,2828.0 1046.0,2770.8 1046.8,2757.0 1047.7,2746.5 1048.5,2756.5 1049.7,2809.4 1050.8,2800.3 1052.0,2803.0 1053.2,2814.7 1054.4,2811.5 1055.6,2804.7 1056.8,2786.5 1058.0,2782.8 1059.2,2769.0 1060.4,2802.2 1061.6,2784.0 1062.8,2792.2 1064.0,2801.5 1065.1,2803.9 1066.3,2795.8 1067.1,2786.6 1068.0,2812.5 1068.8,2817.3 1069.8,2779.7 1070.7,2737.7 1071.7,2731.5 1072.9,2670.4 1074.1,2733.5 1075.3,2676.0 1076.5,2802.4 1077.6,2688.2 1078.8,2810.0 1080.0,2755.6 1081.2,2813.7 1082.4,2742.2 1083.4,2714.5 1084.2,2724.7 1085.1,2723.7 1085.9,2728.8 1087.4,2661.4 1089.0,2721.1 1090.5,2657.3 1092.3,2700.0 1093.3,2680.1 1094.2,2704.6 1095.2,2682.3 1096.0,2721.9 1096.9,2677.0 1097.7,2718.0 1098.5,2691.0 1099.4,2713.7 1100.2,2686.0 1101.1,2730.6 1102.1,2682.9 1103.0,2736.0 1104.2,2721.9 1105.4,2681.3 1106.6,2646.6 1107.8,2663.7 1109.0,2674.5 1110.2,2664.5 1111.4,2651.0 1112.6,2669.4 1113.8,2661.0 1114.5,2689.5 1115.4,2683.5 1116.4,2699.5 1117.3,2682.3 1118.5,2712.2 1119.8,2678.8 1121.0,2721.7 1121.9,2751.6 1122.9,2757.6 1123.8,2789.6 1124.6,2782.5 1125.5,2720.5 1126.3,2714.5 1127.5,2730.5 1128.6,2747.8 1129.8,2768.0 1131.0,2768.7 1132.2,2762.4 1133.4,2775.3 1134.6,2724.3 1135.7,2747.8 1136.8,2739.7 1138.0,2703.8 1139.1,2732.0 1140.3,2744.4 1141.4,2792.2 1142.6,2807.2 1143.8,2825.0 1145.0,2826.2 1146.2,2808.1 1147.3,2796.1 1148.5,2781.5 1149.7,2791.5 1150.9,2764.4 1152.1,2774.4 1153.1,2736.4 1154.0,2684.1 1155.0,2690.4 1158.5,2876.2 1159.6,2833.2 1160.7,2802.1 1161.7,2767.8 1162.8,2754.7 1164.0,2775.6 1165.2,2853.8 1166.4,2854.8 1167.6,2831.2 1168.7,2812.5 1169.8,2834.1 1171.0,2774.4 1171.9,2797.1 1172.7,2790.8 1173.6,2845.8 1174.8,2869.8 1175.9,2862.4 1177.1,2896.0 1178.4,2906.0 1179.8,2851.2 1181.2,2852.0 1182.5,2851.2 1183.4,2841.2 1184.4,2875.5 1185.3,2885.0 1186.4,2875.0 1187.4,2894.6 1188.5,2894.4 1189.6,2906.6 1190.8,2889.6 1192.0,2911.6 1193.2,2888.7 1194.1,2924.6 1195.1,2928.0 1196.0,2946.0 1197.1,2916.4 1198.2,2899.9 1199.3,2910.6 1200.4,2892.3 1201.6,2902.3 1202.8,2861.5 1204.0,2858.4 1204.9,2867.5 1205.9,2892.2 1206.8,2928.0 1207.9,2918.0 1208.9,2929.6 1210.0,2956.6 1211.0,2960.7 1211.9,2990.0 1212.9,2980.0 1213.7,2963.8 1214.6,2938.5 1215.4,2931.6 1216.6,2905.5 1217.7,2927.4 1218.8,2919.0 1220.0,2915.5 1220.8,2913.1 1221.7,2935.3 1222.5,2974.5 1223.7,2964.2 1224.8,2973.7 1226.0,2946.0 1227.0,2985.8 1228.0,3006.8 1229.0,3031.7 1231.8,2917.3 1232.8,2911.0 1233.9,2922.2 1235.0,2915.7 1236.0,2915.5 1237.9,2896.0 1239.1,2958.8 1240.2,2922.9 1241.3,2960.3 1242.5,2990.6 1244.0,2938.8 1244.9,2946.1 1245.9,2903.0 1246.8,2892.3 1248.6,2924.5 1249.8,2923.9 1251.0,2871.2 1252.2,2845.8 1253.3,2846.6 1254.5,2835.6 1255.7,2828.7 1256.8,2838.7 1258.4,2819.8 1260.0,2848.7 1261.6,2843.6 1263.2,2829.8 1264.3,2878.0 1265.5,2889.8 1266.8,2891.6 1268.0,2890.9 1269.3,2881.6 1270.3,2913.7 1271.2,2904.2 1272.2,2922.7 1273.1,2914.4 1274.1,2931.9 1275.0,2910.0 1276.2,2892.4 1277.4,2866.2 1278.6,2876.2 1279.8,2892.7 1281.0,2917.3 1281.9,2920.0 1282.7,2953.3 1283.6,2954.8 1284.6,2935.2 1285.5,2925.0 1286.5,2935.0 1287.4,2923.7 1288.4,2945.0 1289.3,2919.0 1290.1,2927.1 1291.0,2939.9 1291.8,2946.0 1292.6,2970.0 1293.5,2998.9 1294.3,3017.4 1295.3,3015.0 1296.2,3004.4 1297.2,2960.2 1298.1,2928.8 1299.1,2970.2 1300.0,2938.8 1301.2,2947.1 1302.4,2949.7 1303.6,2963.8 1304.8,3000.6 1306.0,2978.6 1307.2,2990.6 1308.0,3000.6 1308.9,2966.3 1309.7,2928.0 1310.9,2918.0 1312.1,2948.8 1313.3,2946.0 1314.6,2956.0 1315.9,2940.1 1317.3,2928.8 1318.6,2938.8 1320.4,2878.0 1321.2,2889.7 1322.1,2910.3 1322.9,2931.6 1323.9,2890.2 1324.8,2921.6 1325.8,2867.3 1327.6,2826.2 1329.3,2860.0 1330.3,2887.8 1331.2,2917.3 1332.2,2956.6 1333.0,2939.9 1333.9,2919.9 1334.7,2922.7 1335.9,2920.0 1337.1,2947.0 1338.3,2956.6 1339.5,2964.9 1340.6,2952.9 1341.8,2963.1 1342.9,2967.4 1343.7,2957.4 1344.6,2995.9 1345.4,2996.0 1346.2,2994.4 1347.1,3023.7 1347.9,3031.7 1349.1,3010.6 1350.3,3012.9 1351.5,3017.4 1353.7,3031.7 1356.0,3031.7 1357.2,2924.5 1358.0,2922.4 1358.9,2896.6 1359.7,2906.6 1361.5,2974.5 1362.5,3013.0 1363.4,2992.8 1364.4,3003.0 1365.2,2998.7 1366.1,2984.0 1366.9,2994.0 1368.7,2938.8 1369.5,2943.1 1370.4,2914.9 1371.2,2865.5 1372.1,2885.7 1373.1,2870.5 1374.0,2910.0 1375.8,2896.0 1376.8,2884.2 1377.9,2901.6 1379.0,2878.5 1380.0,2885.0 1382.2,2794.0 1383.6,2790.0 1385.1,2800.7 1386.5,2795.8 1387.5,2771.0 1388.4,2798.0 1389.4,2761.9 1390.2,2879.0 1391.1,2775.5 1391.9,2878.0 1392.7,2790.3 1393.6,2866.4 1394.4,2778.0 1395.4,2860.0 1396.3,2773.2 1397.3,2854.8 1398.5,2725.4 1399.6,2852.3 1400.8,2726.0 1402.0,2796.5 1403.2,2722.0 1404.4,2803.0 1406.2,2767.2 1407.0,2826.7 1407.9,2762.6 1408.7,2831.5 1409.7,2737.9 1410.6,2824.0 1411.6,2742.2 1412.7,2718.0 1413.9,2718.0 1415.0,2728.0 1416.2,2709.3 1417.5,2692.1 1418.7,2695.7 1421.0,2700.0 1422.0,2696.7 1423.0,2668.0 1424.0,2646.0 1424.9,2673.8 1425.7,2668.5 1426.6,2681.4 1427.5,2671.4 1428.5,2705.1 1429.4,2704.7 1431.9,2804.7 1432.9,2789.2 1433.8,2774.6 1434.8,2745.8 1436.0,2709.3 1437.2,2721.1 1438.4,2706.5 1439.6,2687.6 1440.7,2681.0 1441.9,2686.8 1442.7,2710.4 1443.6,2727.7 1444.4,2738.6 1445.6,2728.6 1446.8,2728.6 1448.0,2745.8 1449.0,2735.8 1449.9,2773.6 1450.9,2803.0 1452.0,2808.0 1453.1,2771.6 1454.1,2732.2 1455.2,2742.2 1457.3,2767.2 1458.7,2810.0 1459.9,2800.0 1461.1,2824.8 1462.2,2834.4 1463.4,2824.4 1464.2,2857.3 1465.1,2854.7 1465.9,2860.0 1466.8,2879.1 1467.8,2872.0 1468.7,2906.6 1469.7,2873.4 1470.6,2850.5 1471.6,2831.5 1474.0,2985.2 1475.2,2955.8 1476.5,2955.4 1477.7,2938.8 1478.8,2920.1 1480.0,2921.6 1481.2,2929.7 1482.3,2892.3 1483.1,2919.9 1484.0,2928.3 1484.8,2935.0 1486.0,2931.9 1487.2,2925.0 1488.4,2938.8 1489.6,2949.8 1490.8,2974.7 1492.0,2978.0 1493.2,2943.8 1494.3,2968.4 1495.4,2923.8 1496.6,2913.7 1497.8,2949.6 1499.0,2966.2 1500.2,3001.3 1501.3,2961.7 1502.3,3004.6 1503.4,2929.5 1504.5,2933.4 1505.7,2974.4 1506.8,2972.3 1508.0,3006.7 1509.2,2989.1 1510.4,2946.9 1511.6,2938.8 1512.6,2915.8 1513.5,2924.4 1514.5,2892.3 1515.7,2902.3 1516.8,2852.1 1518.0,2854.8 1518.9,2867.5 1519.7,2896.9 1520.6,2892.3 1521.7,2860.7 1522.9,2864.6 1524.0,2831.5 1525.8,2800.0 1526.9,2657.3 1529.4,2471.5 1530.6,2428.9 1531.8,2425.4 1533.0,2386.0 1533.9,2358.1 1534.9,2336.3 1535.8,2278.7 1536.9,2193.0 1537.7,2216.2 1538.6,2204.9 1539.4,2243.0 1540.5,2403.8 1543.7,2543.0 1546.5,2686.0 1548.3,2800.0 1549.0,2838.7 1551.0,2915.5 1551.9,2924.5 1552.9,2896.6 1553.8,2906.6 1554.6,2927.2 1555.5,2938.0 1556.3,2928.0 1557.5,2939.9 1558.7,2920.4 1559.9,2931.6 1561.1,2961.4 1562.2,2951.3 1563.4,2956.6 1564.4,2946.6 1565.3,2967.0 1566.3,2981.7 1567.1,2991.7 1568.0,2950.0 1568.8,2942.3 1570.0,2933.7 1571.2,2914.6 1572.4,2910.0 1574.2,2881.6 1575.4,2871.6 1576.5,2882.0 1577.7,2896.0 1578.5,2897.6 1579.4,2890.1 1580.2,2881.6 1581.4,2891.0 1582.6,2871.6 1583.7,2941.1 1584.9,2931.6 1586.1,2937.4 1587.3,2935.6 1588.5,2910.0 1589.7,2919.2 1590.8,2873.5 1592.0,2867.3 1593.1,2872.0 1594.2,2904.2 1595.2,2939.8 1596.3,2929.8 1597.4,2788.7 1598.6,2764.4 1599.8,2779.4 1601.0,2760.0 1602.8,2835.0 1603.7,2732.5 1604.6,2834.2 1605.5,2730.6 1606.6,2843.2 1607.7,2738.0 1608.8,2856.6 1610.4,2746.1 1611.9,2851.9 1613.5,2742.2 1614.7,2821.4 1615.8,2750.4 1617.0,2829.8 1617.9,2761.6 1618.7,2827.6 1619.6,2749.3 1620.5,2715.2 1621.5,2742.0 1622.4,2704.7 1623.4,2795.4 1624.3,2714.8 1625.3,2806.5 1626.1,2851.1 1627.0,2825.2 1627.8,2883.4 1628.6,2892.8 1629.5,2845.7 1630.3,2837.0 1631.5,2827.0 1632.7,2839.0 1633.8,2852.4 1635.0,2849.4 1636.2,2837.6 1637.3,2839.6 1638.4,2852.9 1639.6,2847.6 1640.8,2861.6 1642.0,2881.6 1643.9,2990.6 1645.6,2913.7 1646.9,2903.7 1648.3,2911.4 1649.7,2929.5 1651.0,2924.5 1652.0,2937.0 1652.9,2956.0 1653.9,2946.0 1654.7,2949.6 1655.6,3004.0 1656.4,2994.0 1657.6,2992.4 1658.8,2967.6 1660.0,2946.0 1660.9,2956.0 1661.9,2955.8 1662.8,2935.0 1663.8,2938.7 1664.9,2927.5 1666.0,2952.3 1667.0,2942.3 1668.2,2954.7 1669.5,2932.3 1670.7,2956.6 1671.5,2946.9 1672.4,2985.3 1673.2,2987.0 1674.1,2982.4 1675.1,2979.0 1676.0,2967.4 1677.0,2986.1 1677.9,2984.3 1678.9,2988.8 1679.7,2997.6 1680.6,2938.9 1681.4,2929.8 1682.2,2943.5 1683.1,2977.3 1683.9,2992.4 1686.0,3031.7 1686.8,3032.0 1687.7,3032.0 1688.5,3024.5 1689.3,3032.0 1690.2,3020.7 1691.0,3031.7 1693.2,2956.6 1694.0,2966.6 1694.9,2949.6 1695.7,2933.4 1696.8,2926.7 1698.0,2955.1 1699.2,2991.7 1700.3,2981.7 1701.8,2917.3 1703.9,2887.0 1704.7,2924.3 1705.6,2924.9 1706.4,2956.6 1707.6,2894.4 1708.8,2905.3 1710.0,2899.5 1711.2,2901.7 1712.4,2930.6 1713.6,2944.0 1714.6,2856.6 1715.8,2866.6 1717.0,2841.4 1718.2,2813.7 1719.3,2811.3 1720.3,2780.8 1721.4,2771.5 1722.5,2781.5 1723.4,2751.9 1724.3,2721.3 1725.2,2703.8 1726.4,2713.8 1727.6,2683.3 1728.8,2684.0 1729.8,2690.4 1730.9,2739.2 1732.0,2737.7 1733.0,2753.8 1734.2,2650.0 1735.4,2601.6 1736.5,2620.9 1737.7,2571.5 1738.9,2582.6 1740.1,2581.0 1741.3,2621.6 1742.5,2586.9 1743.7,2549.3 1744.9,2500.0 1745.8,2630.1 1746.6,2499.2 1747.5,2630.5 1748.5,2476.8 1749.5,2411.0 1750.9,2463.9 1752.4,2415.3 1753.8,2475.3 1754.8,2421.2 1755.7,2461.4 1756.7,2414.5 1758.1,2381.6 1759.6,2409.8 1761.0,2382.3 1762.2,2455.0 1763.3,2391.7 1764.5,2452.0 1766.3,2343.0 1767.5,2326.3 1768.8,2332.6 1770.0,2332.3 1771.2,2367.9 1772.3,2342.7 1773.5,2378.8 1775.3,2414.5 1776.2,2327.9 1777.1,2415.1 1778.0,2332.3 1778.9,2240.5 1779.7,2336.4 1780.6,2232.2 1781.6,2205.5 1782.5,2228.8 1783.5,2201.9 1784.3,2279.9 1785.2,2207.6 1786.0,2293.0 1787.2,2264.8 1788.4,2292.9 1789.6,2253.7 1791.4,2193.0 1792.6,2188.6 1793.7,2156.9 1794.9,2166.0 1796.1,2176.4 1797.3,2169.3 1798.5,2176.8 1800.3,2207.2 1801.2,2231.9 1802.1,2234.4 1803.0,2264.4 1804.2,2233.7 1805.5,2239.4 1806.7,2235.8 1808.5,2210.8 1809.3,2243.8 1810.2,2263.7 1811.0,2253.7 1812.8,2323.4 1814.0,2308.6 1815.2,2319.9 1816.4,2296.6 1817.2,2319.2 1818.1,2321.5 1818.9,2323.4 1820.3,2313.4 1821.8,2331.0 1823.2,2313.4 1824.6,2327.0 1826.4,2364.5 1827.5,2374.5 1828.6,2374.5 1829.6,2370.2 1830.7,2357.3 1832.5,2428.8 1833.4,2418.8 1834.4,2463.8 1835.3,2464.5 1836.1,2491.3 1837.0,2470.0 1837.8,2507.2 1839.6,2578.7 1841.4,2650.0 1842.6,2660.0 1843.8,2651.4 1845.0,2650.0 1846.0,2732.4 1846.9,2736.0 1847.8,2733.3 1848.7,2753.0 1850.5,2795.8 1851.0,2845.8 1852.6,2802.9 1854.2,2842.6 1855.8,2797.6 1857.6,2845.8 1859.4,2885.0 1860.6,2923.7 1861.8,2907.8 1863.0,2913.7 1864.0,2922.8 1864.9,2912.8 1865.9,2929.8 1867.6,2870.9 1868.8,2871.3 1870.0,2894.0 1871.4,2882.7 1872.8,2878.7 1874.1,2904.0 1875.5,2888.7 1876.5,2864.2 1877.4,2865.0 1878.4,2829.8 1879.2,2826.3 1880.1,2881.1 1880.9,2881.6 1882.0,2882.0 1883.1,2895.0 1884.1,2882.3 1885.2,2885.0 1886.2,2926.3 1887.4,2892.4 1888.6,2912.3 1889.8,2872.6 1890.6,2882.1 1891.5,2904.6 1892.3,2924.5 1893.3,2905.0 1894.2,2921.0 1895.2,2913.7 1896.5,2905.4 1897.8,2916.1 1899.2,2915.9 1900.5,2908.4 1901.3,2916.9 1902.2,2924.7 1903.0,2971.0 1904.0,2983.5 1904.9,2995.2 1905.9,2985.2 1906.8,2982.3 1907.8,2933.6 1908.7,2938.8 1909.9,2950.9 1911.1,2948.1 1912.3,2942.3 1913.5,2962.9 1914.7,2981.0 1915.9,2988.8 1916.6,2892.3 1918.4,2885.0 1919.6,2895.8 1920.8,2922.2 1922.0,2935.0 1923.8,2945.0 1925.5,2925.1 1927.2,2923.4 1929.0,2933.4 1930.9,2960.2 1932.1,2966.6 1933.3,2980.4 1934.5,2985.2 1936.3,3012.0 1938.0,2888.7 1939.0,2878.7 1939.9,2878.7 1940.9,2888.7 1941.6,3031.7 1942.6,3029.7 1943.5,3003.9 1944.5,2994.0 1945.3,2992.7 1946.2,2975.2 1947.0,2985.2 1948.2,2995.2 1949.4,2995.2 1950.6,2971.0 1951.8,2976.3 1953.0,2988.8 1954.0,2970.9 1955.0,2964.5 1956.0,2974.5 1957.7,2933.4 1958.9,2957.2 1960.1,2950.7 1961.3,2956.6 1962.1,2962.6 1963.0,3019.0 1963.8,3017.4 1964.7,3032.0 1965.7,3032.0 1966.6,3031.7 1967.8,2969.7 1969.0,2969.1 1970.2,2940.6 1971.4,2977.5 1972.6,2969.8 1973.8,3017.4 1975.0,3027.4 1976.2,3027.4 1977.4,2999.5 1978.5,3004.7 1979.5,2959.8 1980.5,2946.6 1981.6,2946.0 1982.6,2956.0 1983.5,2956.0 1984.5,2935.0 1985.5,2979.8 1986.4,3001.9 1987.4,3003.0 1988.5,2999.0 1989.6,2991.1 1990.6,2984.0 1991.7,2994.0 1992.9,2985.5 1994.0,2989.8 1995.2,2926.3 1996.1,2940.0 1997.1,2961.8 1998.0,2992.4 1999.1,2993.4 2000.2,2977.7 2001.3,2939.5 2002.4,2949.5 2003.6,2953.3 2004.8,2963.1 2006.0,2999.5 2006.9,3009.5 2007.9,2965.2 2008.8,2967.4 2009.6,3004.2 2010.5,3032.0 2011.3,3031.7 2012.1,3032.0 2013.0,3000.2 2013.8,2946.0 2014.8,2956.0 2015.7,2905.5 2016.7,2915.5 2017.9,2938.4 2019.0,2960.7 2020.2,3003.0 2021.3,2989.8 2022.3,3013.0 2023.4,2961.0 2024.5,2971.0 2025.7,2990.5 2026.8,2967.7 2028.0,2999.5 2029.2,3009.5 2030.5,3006.2 2031.7,2974.5 2032.6,2949.8 2033.6,2980.8 2034.5,2928.0 2035.5,2917.4 2036.4,2927.7 2037.4,2892.3 2038.2,2887.1 2039.1,2860.7 2039.9,2860.0 2041.7,2837.0 2042.6,2864.1 2043.6,2902.7 2044.5,2938.8 2047.0,2838.7 2048.2,2826.0 2049.4,2793.3 2050.6,2767.2 2052.4,2707.4 2053.6,2749.5 2054.7,2720.0 2055.8,2723.1 2057.0,2739.5 2057.9,2712.3 2058.7,2696.9 2059.6,2696.6 2061.4,2635.9 2062.2,2599.3 2063.1,2596.7 2063.9,2603.7 2066.0,2550.0 2067.1,2576.2 2068.2,2570.8 2069.2,2576.5 2070.3,2589.4 2072.0,2650.0 2072.9,2680.8 2073.7,2653.4 2074.6,2678.8 2075.5,2561.3 2076.5,2677.1 2077.4,2564.4 2078.3,2644.6 2079.1,2561.9 2080.0,2650.0 2081.0,2730.6 2082.4,2656.4 2083.9,2731.3 2085.3,2652.0 2086.4,2728.8 2087.6,2736.8 2088.8,2729.4 2090.0,2742.2 2091.7,2778.0 2092.0,2854.8 2093.2,2850.3 2094.5,2848.2 2095.8,2846.0 2097.0,2849.4 2098.0,2858.4 2099.0,2908.7 2100.0,2903.0 2101.1,2896.4 2102.1,2891.2 2103.1,2905.1 2104.2,2901.2 2106.0,2967.4 2107.0,2964.5 2107.9,2981.4 2108.9,3017.4 2110.1,3008.2 2111.3,2975.2 2112.5,2985.2 2113.3,2975.2 2114.2,3021.4 2115.0,3031.7 2115.8,3032.0 2116.7,3021.7 2117.5,3031.7 2118.5,2931.6 2119.3,2907.7 2120.2,2926.5 2121.0,2908.4 2122.2,2898.4 2123.4,2943.9 2124.6,2985.2 2125.9,2946.8 2127.2,2948.2 2128.5,2935.0 2129.3,2925.2 2130.2,3002.4 2131.0,3012.0 2132.2,2992.9 2133.3,2984.5 2134.5,2956.6 2135.7,2946.0 2136.8,2936.0 2137.8,2984.9 2138.9,3008.5 2140.1,2998.5 2141.3,3021.7 2142.5,3028.0 2143.4,2994.8 2144.4,2986.6 2145.3,2974.5 2146.3,2955.8 2147.2,2958.6 2148.2,2929.8 2149.0,2936.5 2149.9,2898.4 2150.7,2908.4 2151.5,2914.6 2152.4,2938.0 2153.2,2928.0 2154.4,2934.6 2155.6,2911.0 2156.8,2921.0 2157.7,2924.8 2158.7,2926.6 2159.6,2938.8 2160.6,2948.0 2161.5,2923.9 2162.5,2915.5 2163.7,2915.8 2164.8,2925.5 2166.0,2896.0 2166.9,2862.8 2167.7,2861.0 2168.6,2870.9 2170.4,2817.3 2171.3,2775.4 2172.3,2775.0 2173.2,2785.0 2174.0,2776.9 2174.9,2743.3 2175.7,2714.5 2176.9,2724.5 2178.1,2672.3 2179.3,2682.3 2180.5,2668.8 2181.7,2692.3 2182.9,2678.8 2184.0,2602.0"/>
</g>
</svg>
</body>
</html>
